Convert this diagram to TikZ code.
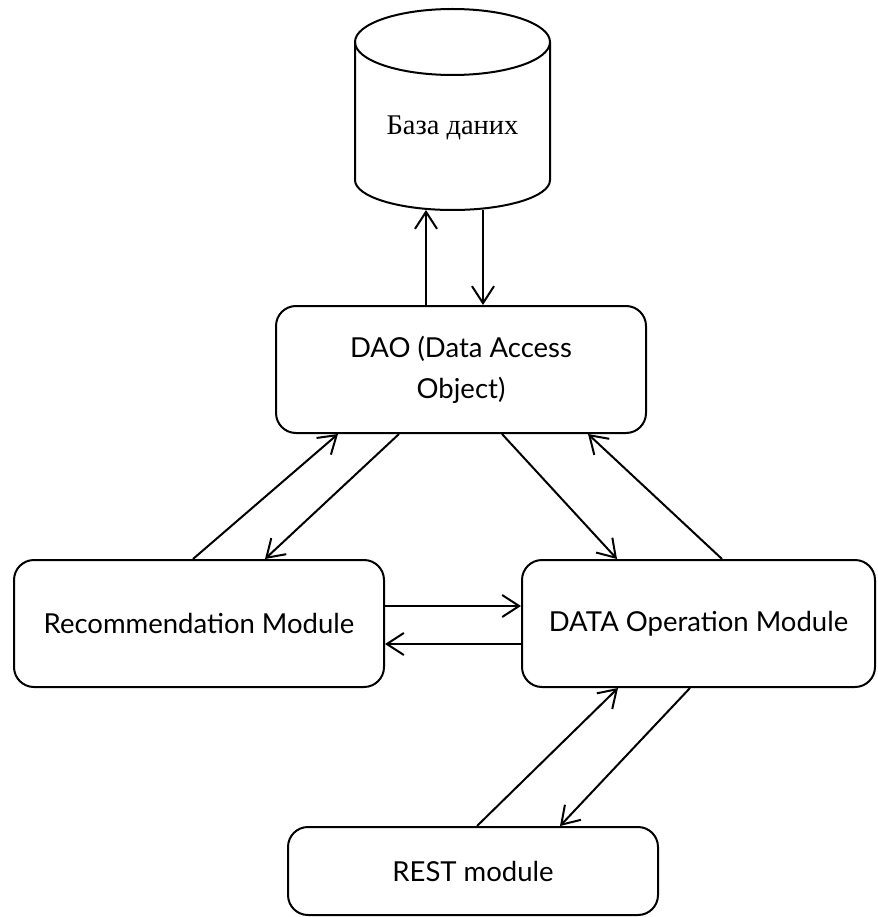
\documentclass[tikz,border=0pt]{standalone}
\usepackage{fontspec}
\setmainfont{Lato}
\newfontfamily\dbfont{Liberation Serif}
\usetikzlibrary{arrows.meta}
\tikzset{
  module/.style={draw,rounded corners=20pt,align=center,font=\fontsize{27.5}{41}\selectfont},
  >={Straight Barb[length=17pt,width=22pt]}
}
\begin{document}
\begin{tikzpicture}[x=1pt,y=1pt,line width=2pt]
\useasboundingbox (0,0) rectangle (877,-917);
% database cylinder
\draw (355,-42) -- (355,-180) arc[start angle=180,end angle=360,x radius=97.5,y radius=30]
  -- (550,-42);
\draw (452.5,-42) ellipse[x radius=97.5,y radius=33];
\node[font=\dbfont\fontsize{28.5}{32}\selectfont] (db) at (452.5,-128) {База даних};
\coordinate (dbbase) at (452.5,-210);

\node[module,minimum width=370pt,minimum height=127pt] (dao) at (461,-369.5) {DAO (Data Access\\Object)};
\node[module,minimum width=370pt,minimum height=127pt] (rec) at (199,-623.5) {Recommendation Module};
\node[module,minimum width=353pt,minimum height=127pt] (dop) at (698.5,-623.5) {DATA Operation Module};
\node[module,minimum width=370pt,minimum height=88pt] (rest) at (473,-871) {REST module};

\path[->] ([xshift=-35pt]dao.north) edge ([xshift=-26.5pt]dbbase);
\path[->] ([xshift=30.5pt]dbbase) edge ([xshift=22pt]dao.north);

\path[->] ([xshift=-6pt]rec.north) edge ([xshift=-123pt]dao.south);
\path[->] ([xshift=-62pt]dao.south) edge ([xshift=66pt]rec.north);
\path[->] ([xshift=41pt]dao.south) edge ([xshift=-81.5pt]dop.north);
\path[->] ([xshift=23.5pt]dop.north) edge ([xshift=127pt]dao.south);

\path[->] ([yshift=17.5pt]rec.east) edge ([yshift=17.5pt]dop.west);
\path[->] ([yshift=-20.5pt]dop.west) edge ([yshift=-20.5pt]rec.east);

\path[->] ([xshift=4pt]rest.north) edge ([xshift=-80.5pt]dop.south);
\path[->] ([xshift=-8.5pt]dop.south) edge ([xshift=87pt]rest.north);
\end{tikzpicture}
\end{document}
